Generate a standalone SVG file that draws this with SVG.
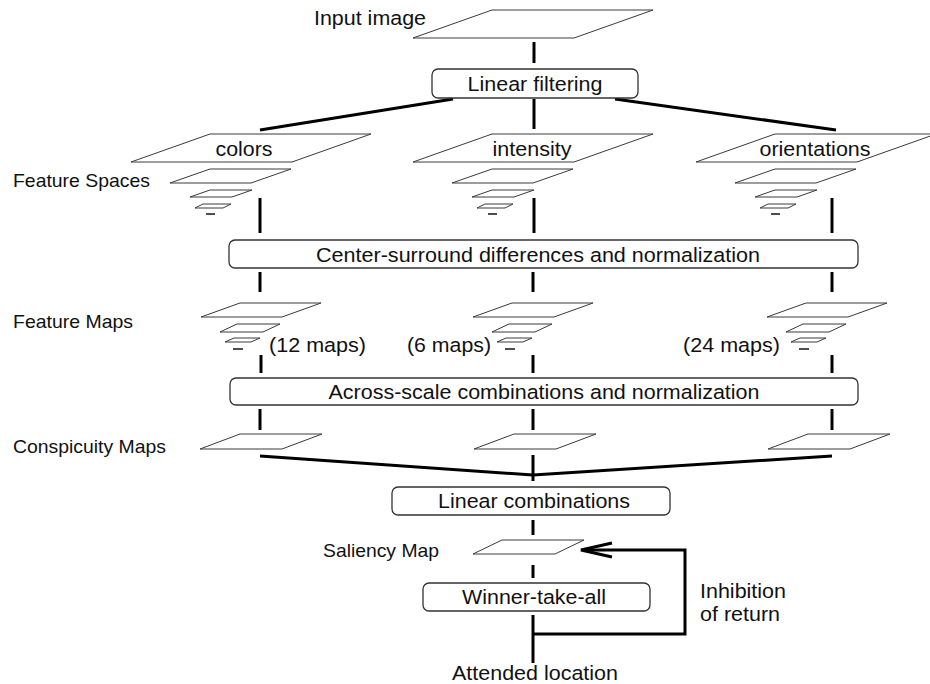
<svg xmlns="http://www.w3.org/2000/svg" width="930" height="684" viewBox="0 0 930 684">
<style>
.bg{fill:#fff}
.pl{fill:#fff;stroke:#3a3a3a;stroke-width:1}
.box{fill:#fff;stroke:#333;stroke-width:1.3}
.t{font-family:"Liberation Sans",Arial,sans-serif;font-size:20.5px;fill:#111}
.s{font-family:"Liberation Sans",Arial,sans-serif;font-size:18.5px;fill:#111}
.c{fill:none;stroke:#000;stroke-width:3}
.d{fill:none;stroke:#222;stroke-width:1.6}
</style>
<defs>
<g id="fs">
<polygon class="pl" points="39,183 120,183 160,169 79,169"/>
<polygon class="pl" points="59,197 101,197 121,190 79,190"/>
<polygon class="pl" points="64,208 92,208 100,204 72,204"/>
<line class="d" x1="75" y1="214" x2="84" y2="214"/>
</g>
<g id="fm">
<polygon class="pl" points="0,317 81,317 120,303 39,303"/>
<polygon class="pl" points="19,332 62,332 79,324 36,324"/>
<polygon class="pl" points="24,342 50,342 59,338 33,338"/>
<line class="d" x1="32" y1="349" x2="42" y2="349"/>
</g>
</defs>
<rect class="bg" x="0" y="0" width="930" height="684"/>

<g id="connectors">
<line class="c" x1="534" y1="42" x2="534" y2="63"/>
<line class="c" x1="453" y1="99" x2="260" y2="130"/>
<line class="c" x1="534" y1="99" x2="534" y2="129"/>
<line class="c" x1="615" y1="99" x2="836" y2="130"/>
<line class="c" x1="260" y1="198" x2="260" y2="233"/>
<line class="c" x1="534" y1="198" x2="534" y2="233"/>
<line class="c" x1="832" y1="198" x2="832" y2="233"/>
<line class="c" x1="260" y1="272" x2="260" y2="292"/>
<line class="c" x1="533" y1="272" x2="533" y2="292"/>
<line class="c" x1="832" y1="272" x2="832" y2="292"/>
<line class="c" x1="261" y1="355" x2="261" y2="373"/>
<line class="c" x1="533" y1="355" x2="533" y2="373"/>
<line class="c" x1="832" y1="355" x2="832" y2="373"/>
<line class="c" x1="260" y1="409" x2="260" y2="430"/>
<line class="c" x1="533" y1="409" x2="533" y2="430"/>
<line class="c" x1="832" y1="409" x2="832" y2="430"/>
<polyline class="c" points="260,456 533,475 832,456"/>
<line class="c" x1="533" y1="455" x2="533" y2="481"/>
<line class="c" x1="533" y1="520" x2="533" y2="535"/>
<line class="c" x1="533" y1="565" x2="533" y2="578"/>
<line class="c" x1="533" y1="615" x2="533" y2="663"/>
<polyline class="c" points="533,634 685,634 685,550 582,550"/>
<polyline class="c" points="612,543 581,550 612,557"/>
</g>

<g id="input-image">
<polygon class="pl" points="413,38 574,38 653,10 492,10"/>
<text class="t" x="314" y="25" textLength="112" lengthAdjust="spacingAndGlyphs">Input image</text>
</g>
<g id="linear-filtering">
<rect class="box" x="432" y="69" width="206" height="29" rx="6"/>
<text class="t" x="535" y="91" text-anchor="middle" textLength="135" lengthAdjust="spacingAndGlyphs">Linear filtering</text>
</g>

<g id="feature-spaces-label"><text class="s" x="13" y="187" textLength="137" lengthAdjust="spacingAndGlyphs">Feature Spaces</text></g>
<g id="colors">
<polygon class="pl" points="131,162 292,162 371,134 210,134"/>
<text class="t" x="244" y="156" text-anchor="middle" textLength="57" lengthAdjust="spacingAndGlyphs">colors</text>
<use href="#fs" x="131"/>
</g>
<g id="intensity">
<polygon class="pl" points="413,162 574,162 653,134 492,134"/>
<text class="t" x="532" y="156" text-anchor="middle" textLength="79" lengthAdjust="spacingAndGlyphs">intensity</text>
<use href="#fs" x="413"/>
</g>
<g id="orientations">
<polygon class="pl" points="696,162 857,162 936,134 775,134"/>
<text class="t" x="815" y="156" text-anchor="middle" textLength="111" lengthAdjust="spacingAndGlyphs">orientations</text>
<use href="#fs" x="696"/>
</g>

<g id="center-surround">
<rect class="box" x="229" y="240" width="629" height="28" rx="6"/>
<text class="t" x="538" y="262" text-anchor="middle" textLength="444" lengthAdjust="spacingAndGlyphs">Center-surround differences and normalization</text>
</g>

<g id="feature-maps-label"><text class="s" x="13" y="328" textLength="120" lengthAdjust="spacingAndGlyphs">Feature Maps</text></g>
<g id="fm-colors"><use href="#fm" x="201"/><text class="t" x="269" y="352" textLength="97" lengthAdjust="spacingAndGlyphs">(12 maps)</text></g>
<g id="fm-intensity"><use href="#fm" x="473"/><text class="t" x="407" y="352" textLength="84" lengthAdjust="spacingAndGlyphs">(6 maps)</text></g>
<g id="fm-orientations"><use href="#fm" x="767"/><text class="t" x="683" y="352" textLength="97" lengthAdjust="spacingAndGlyphs">(24 maps)</text></g>

<g id="across-scale">
<rect class="box" x="230" y="378" width="628" height="27" rx="6"/>
<text class="t" x="544" y="399" text-anchor="middle" textLength="431" lengthAdjust="spacingAndGlyphs">Across-scale combinations and normalization</text>
</g>

<g id="conspicuity-label"><text class="s" x="13" y="453" textLength="153" lengthAdjust="spacingAndGlyphs">Conspicuity Maps</text></g>
<g id="cm-colors"><polygon class="pl" points="200,449 282,449 322,434 240,434"/></g>
<g id="cm-intensity"><polygon class="pl" points="474,449 556,449 596,434 514,434"/></g>
<g id="cm-orientations"><polygon class="pl" points="768,449 850,449 890,434 808,434"/></g>

<g id="linear-combinations">
<rect class="box" x="392" y="487" width="278" height="28" rx="6"/>
<text class="t" x="534" y="508" text-anchor="middle" textLength="192" lengthAdjust="spacingAndGlyphs">Linear combinations</text>
</g>

<g id="saliency-map">
<polygon class="pl" points="473,554 555,554 584,540 502,540"/>
<text class="s" x="323" y="557" textLength="116" lengthAdjust="spacingAndGlyphs">Saliency Map</text>
</g>

<g id="winner-take-all">
<rect class="box" x="423" y="583" width="227" height="28" rx="6"/>
<text class="t" x="462" y="604" textLength="144" lengthAdjust="spacingAndGlyphs">Winner-take-all</text>
</g>

<g id="inhibition-label">
<text class="t" x="700" y="598" textLength="86" lengthAdjust="spacingAndGlyphs">Inhibition</text>
<text class="t" x="700" y="621" textLength="80" lengthAdjust="spacingAndGlyphs">of return</text>
</g>

<g id="attended-location">
<text class="t" x="452" y="680" textLength="166" lengthAdjust="spacingAndGlyphs">Attended location</text>
</g>
</svg>
